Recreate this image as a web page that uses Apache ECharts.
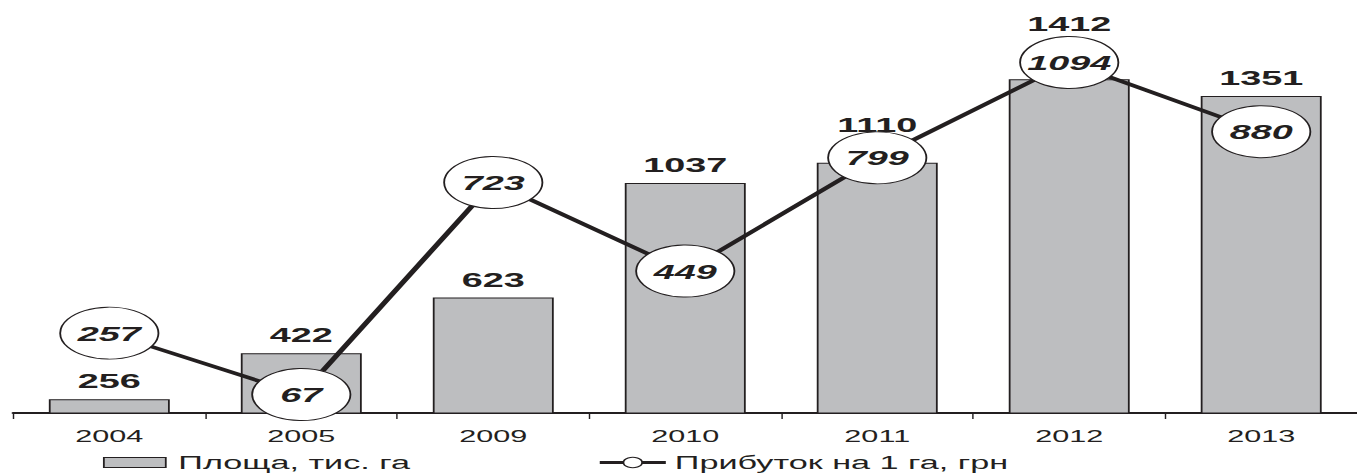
<!DOCTYPE html>
<html><head><meta charset="utf-8">
<script src="https://cdn.jsdelivr.net/npm/echarts@6/dist/echarts.min.js"></script>
<style>
html,body{margin:0;padding:0;background:#fff;overflow:hidden;}
#wrap{width:1357px;height:476px;overflow:hidden;position:relative;}
#c{width:753.9px;height:476px;transform:scaleX(1.8);transform-origin:0 0;}
</style></head><body><div id="wrap"><div id="c"></div></div>
<script>
// ---- data ----
const categories = ['2004', '2005', '2009', '2010', '2011', '2012', '2013'];
const areaValues = [256, 422, 623, 1037, 1110, 1412, 1351];
const profitValues = [257, 67, 723, 449, 799, 1094, 880];
const seriesNames = ['Площа, тис. га', 'Прибуток на 1 га, грн'];

// ---- styling ----
const INK = '#231f20';
const FONT = '"Liberation Sans", Arial, sans-serif';
const labelLift = {4: 20, 5: 37};   // extra lift for labels that would hit ellipses

const chart = echarts.init(document.getElementById('c'), null, {renderer: 'svg'});

const barData = areaValues.map((v, i) => labelLift[i]
  ? {value: v, label: {offset: [0, -labelLift[i]]}}
  : v);

chart.setOption({
  animation: false,
  backgroundColor: '#fff',
  grid: {left: 7.4, top: 13, width: 751.7, height: 400, containLabel: false},
  legend: [
    {
      left: 57.2, top: 453, padding: 0,
      itemWidth: 34.4, itemHeight: 10,
      data: [{name: seriesNames[0], icon: 'rect'}],
      itemStyle: {color: '#bdbec0', borderColor: INK, borderWidth: 1},
      textStyle: {fontSize: 19, color: INK, fontFamily: FONT, padding: [0, 0, 0, 2]}
    },
    {
      left: 331.7, top: 453, padding: 0,
      itemWidth: 36.7, itemHeight: 13,
      data: [{name: seriesNames[1]}],
      lineStyle: {color: INK, width: 3},
      itemStyle: {color: '#fff', borderColor: INK, borderWidth: 1},
      textStyle: {fontSize: 19, color: INK, fontFamily: FONT}
    }
  ],
  xAxis: {
    type: 'category',
    data: categories,
    boundaryGap: true,
    axisLine: {lineStyle: {color: INK, width: 2}},
    axisTick: {show: true, length: 6, lineStyle: {color: INK, width: 0.8}},
    axisLabel: {fontSize: 17, color: INK, fontFamily: FONT, margin: 15}
  },
  yAxis: [
    {type: 'value', min: 206, max: 1651, show: false, splitLine: {show: false}},
    {type: 'value', min: 10, max: 1247, show: false, splitLine: {show: false}}
  ],
  series: [
    {
      name: seriesNames[0],
      type: 'bar',
      yAxisIndex: 0,
      data: barData,
      barWidth: 67.2,
      itemStyle: {color: '#bdbec0', borderColor: INK, borderWidth: 1},
      label: {
        show: true, position: 'top', distance: 8,
        fontSize: 21, fontWeight: 'bold', color: INK, fontFamily: FONT
      },
      z: 2
    },
    {
      name: seriesNames[1],
      type: 'line',
      yAxisIndex: 1,
      data: profitValues,
      clip: false,
      symbol: 'circle',
      symbolSize: [54.6, 52],
      lineStyle: {color: INK, width: 3.4},
      itemStyle: {color: '#fff', borderColor: INK, borderWidth: 1},
      label: {
        show: true, position: 'inside',
        fontSize: 21, fontWeight: 'bold', fontStyle: 'italic', color: INK, fontFamily: FONT
      },
      z: 3
    }
  ]
});
</script></body></html>
